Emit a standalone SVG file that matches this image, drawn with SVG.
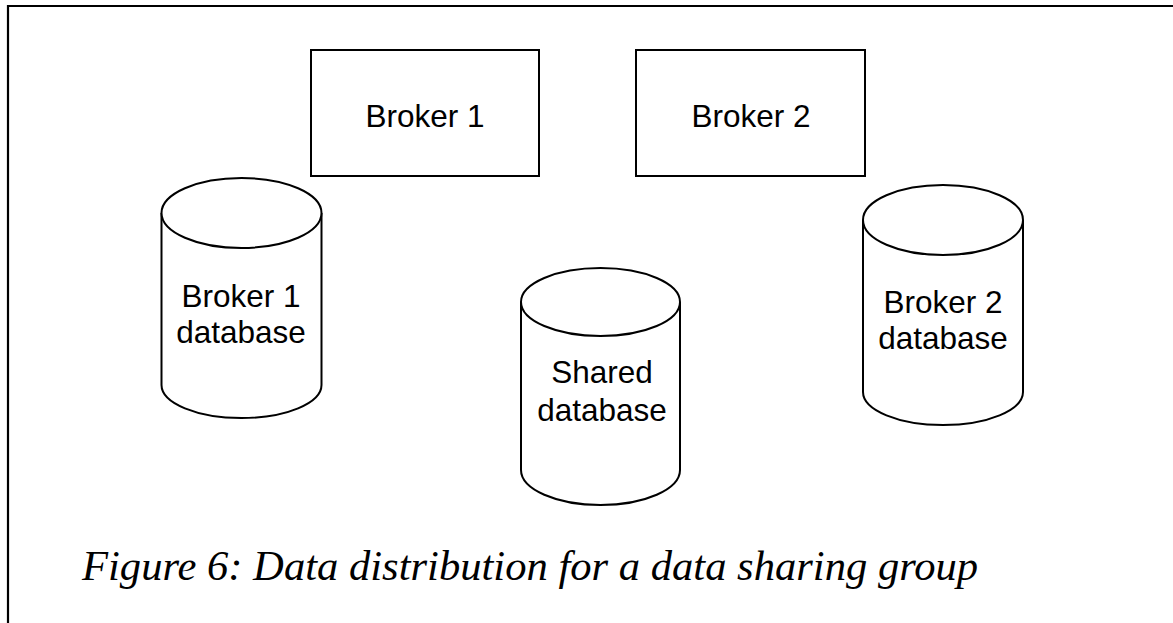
<svg xmlns="http://www.w3.org/2000/svg" width="1173" height="623" viewBox="0 0 1173 623">
  <style>
    .frame { fill: none; stroke: #000; stroke-width: 2.2; }
    .box { fill: #fff; stroke: #000; stroke-width: 2; }
    .cyl { fill: #fff; stroke: #000; stroke-width: 2; }
    .label { font-family: "Liberation Sans", Arial, sans-serif; font-size: 31.5px; fill: #000; text-anchor: middle; }
    .caption { font-family: "Liberation Serif", "Times New Roman", serif; font-style: italic; font-size: 42.6px; fill: #000; }
  </style>

  <rect width="1173" height="623" fill="#fff"/>

  <!-- open frame: top and left rules only -->
  <path class="frame" d="M8 623 V6 H1173"/>

  <g id="connectors"></g>

  <g id="broker1">
    <rect class="box" x="311" y="50" width="228" height="126"/>
    <text class="label" x="425" y="127">Broker 1</text>
  </g>

  <g id="broker2">
    <rect class="box" x="636" y="50" width="229" height="126"/>
    <text class="label" x="751" y="127">Broker 2</text>
  </g>

  <g id="broker1-db">
    <path class="cyl" d="M161.5 213 V385 A80 33 0 0 0 321.5 385 V213"/>
    <ellipse class="cyl" cx="241.5" cy="213" rx="80" ry="35"/>
    <text class="label" x="241" y="307">Broker 1</text>
    <text class="label" x="241" y="343">database</text>
  </g>

  <g id="shared-db">
    <path class="cyl" d="M521 302 V470 A79.5 35 0 0 0 680 470 V302"/>
    <ellipse class="cyl" cx="600.5" cy="302" rx="79.5" ry="34"/>
    <text class="label" x="602" y="383">Shared</text>
    <text class="label" x="602" y="421">database</text>
  </g>

  <g id="broker2-db">
    <path class="cyl" d="M863 220 V392 A80 33 0 0 0 1023 392 V220"/>
    <ellipse class="cyl" cx="943" cy="220" rx="80" ry="35"/>
    <text class="label" x="943" y="313">Broker 2</text>
    <text class="label" x="943" y="349">database</text>
  </g>

  <text class="caption" x="82" y="580">Figure 6: Data distribution for a data sharing group</text>
</svg>
